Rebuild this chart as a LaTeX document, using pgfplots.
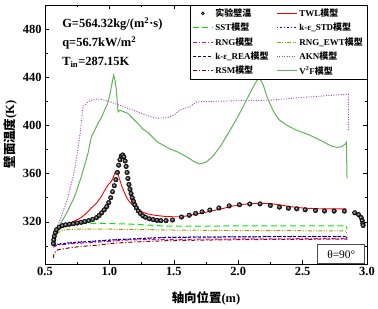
\documentclass[border=0pt]{standalone}
\usepackage{fontspec}
\setmainfont{Liberation Serif}
\newfontfamily\cjk{Noto Sans CJK SC}
\usepackage{pgfplots}
\pgfplotsset{compat=1.18}
\newcommand{\zh}[1]{{\cjk #1}}
\definecolor{cV}{RGB}{95,180,85}
\definecolor{cSST}{RGB}{0,235,0}
\definecolor{cEWT}{RGB}{153,153,0}
\definecolor{cAKN}{RGB}{170,60,200}
\definecolor{cREA}{RGB}{0,0,140}
\definecolor{cRSM}{RGB}{150,0,0}
\begin{document}
\begin{tikzpicture}
\begin{axis}[
  scale only axis, width=322bp, height=259bp,
  xmin=0.5, xmax=3.0, ymin=285, ymax=500,
  xtick={0.5,1.0,1.5,2.0,2.5,3.0}, ytick={320,360,400,440,480},
  minor xtick={0.75,1.25,1.75,2.25,2.75},
  minor ytick={300,340,380,420,460},
  tick align=inside, major tick length=4bp, minor tick length=2.5bp,
  axis line style={line width=0.6bp}, every tick/.style={black, line width=0.5bp},
  /pgf/number format/assume math mode=true,
  every tick label/.append style={font=\fontsize{12.5}{14}\selectfont\bfseries},
  x tick label style={/pgf/number format/.cd, fixed, fixed zerofill, precision=1},
  y tick label style={/pgf/number format/.cd, fixed, precision=0},
  every axis x label/.style={at={([yshift=-34bp]rel axis cs:0.5,0)}, anchor=center},
  every axis y label/.style={at={([xshift=-35bp]rel axis cs:0,0.5)}, anchor=center, rotate=90},
  xlabel={\fontsize{12.5}{14}\selectfont\bfseries\zh{轴向位置}(m)},
  ylabel={\fontsize{12.5}{14}\selectfont\bfseries\zh{壁面温度}(K)},
  legend columns=2,
  legend cell align=left,
  legend style={at={(rel axis cs:1,1)}, anchor=north east, draw=black, line width=0.5bp,
    font=\fontsize{9}{10}\selectfont\bfseries, inner xsep=2bp, inner ysep=1.5bp,
    row sep=1.2bp, /tikz/every even column/.append style={column sep=6bp}},
  legend image code/.code={\draw[mark repeat=2,mark phase=2,#1] plot coordinates {(0bp,0bp) (10bp,0bp) (20bp,0bp)};},
  clip=false,
]
\coordinate (bl) at (rel axis cs:0,0);
\coordinate (tr) at (rel axis cs:1,1);
% experiment
\addplot[only marks, mark=ball, mark size=2.3bp, every mark/.append style={ball color=black!85},
  legend image post style={mark size=1.6bp}] coordinates {
(0.565,302)(0.568,305)(0.572,308)(0.58,311)(0.59,313.5)(0.61,315.5)(0.635,316.8)(0.66,317.5)
(0.69,318)(0.72,318.5)(0.75,319)(0.78,319.6)(0.81,320.3)(0.84,321)(0.87,322)(0.90,323.5)
(0.92,325.3)(0.94,327.5)(0.96,330)(0.98,332.7)(0.995,336)(1.01,340)(1.025,345)(1.038,350)
(1.05,355)(1.062,361)(1.072,367)(1.082,371.5)(1.092,374.5)(1.103,375.5)(1.113,374)(1.122,370.5)
(1.13,366)(1.137,361)(1.144,356)(1.152,351)(1.16,347)(1.168,343.5)(1.177,340)(1.187,337)
(1.198,334)(1.21,331.5)(1.225,329)(1.24,327)(1.26,325)(1.28,323.8)(1.31,322.5)(1.34,321.8)
(1.37,321.2)(1.40,321)(1.44,321)(1.49,321.5)(1.56,324)(1.62,325.5)(1.67,327)(1.72,328.3)
(1.78,329.8)(1.85,331.5)(1.93,333.2)(2.01,334.2)(2.09,334.8)(2.17,334.9)(2.25,333.6)(2.32,332.2)
(2.39,331.3)(2.455,330.8)(2.52,330)(2.6,329.4)(2.67,329)(2.745,328.9)(2.825,328.9)(2.905,327.5)
(2.935,326)(2.955,323.5)(2.963,321)(2.968,318.5)(2.97,317)
};
\addlegendentry{\zh{实验壁温}}
% TWL
\addplot[red, line width=0.9bp] coordinates {
(0.565,302)(0.575,309)(0.6,313.5)(0.63,315.6)(0.68,318.5)(0.73,320.8)(0.78,323.5)(0.82,327)
(0.86,331.5)(0.9,335.5)(0.937,341)(0.96,345.5)(0.99,350.6)(1.015,353.5)(1.03,357)(1.045,361)
(1.055,362)(1.065,360)(1.08,355)(1.095,350)(1.11,346)(1.13,341)(1.15,337.5)(1.175,334.5)
(1.2,332.5)(1.23,330)(1.26,328)(1.3,326.5)(1.35,325.5)(1.43,324.5)(1.5,324.2)(1.56,324.2)
(1.62,325.3)(1.68,326.6)(1.75,328)(1.81,329.4)(1.88,331)(1.94,332.7)(2.0,334)(2.07,334.9)
(2.17,335.5)(2.27,334.9)(2.34,333.8)(2.4,332.7)(2.47,331.8)(2.53,331.3)(2.62,330.9)(2.71,330.8)(2.84,330.8)
};
\addlegendentry{TWL\zh{模型}}
% SST
\addplot[cSST, line width=1bp, dash pattern=on 6bp off 3.5bp] coordinates {
(0.565,303)(0.57,307)(0.58,310.5)(0.6,313.5)(0.63,315.8)(0.67,317.2)(0.72,318)(0.8,318.5)
(0.9,318.7)(1.04,318.5)(1.15,318.2)(1.3,317.3)(1.43,316.5)(1.6,316.5)(1.8,316.5)(2.0,316.6)
(2.2,316.7)(2.4,316.7)(2.6,316.7)(2.84,316.7)(2.845,314)
};
\addlegendentry{SST\zh{模型}}
% k-e STD
\addplot[blue, line width=1bp, dash pattern=on 1.2bp off 2.3bp] coordinates {
(0.565,300.5)(0.58,301)(0.6,301.6)(0.7,302.8)(0.8,303.6)(0.9,304.3)(1.04,305.3)(1.2,306)
(1.43,307.2)(1.7,307.5)(2.0,307.7)(2.3,307.9)(2.6,308)(2.84,308)(2.845,306)
};
\addlegendentry{k-ε\_STD\zh{模型}}
% RNG
\addplot[magenta, line width=1bp, dash pattern=on 4bp off 2bp on 1bp off 2bp] coordinates {
(0.565,299)(0.6,300.7)(0.7,301.8)(0.8,302.5)(1.0,303.8)(1.15,305)(1.4,305.4)(1.57,305.5)
(2.0,305.8)(2.5,306)(2.84,306)(2.845,305)
};
\addlegendentry{RNG\zh{模型}}
% RNG EWT
\addplot[cEWT, line width=1bp, dash pattern=on 4bp off 1.5bp on 1bp off 1.5bp on 1bp off 1.5bp] coordinates {
(0.565,302)(0.575,307)(0.6,311)(0.64,313)(0.7,313.8)(0.9,314)(1.2,313.7)(1.5,313.2)
(2.0,312.8)(2.5,312.6)(2.84,312.5)(2.845,309.5)
};
\addlegendentry{RNG\_EWT\zh{模型}}
% k-e REA
\addplot[cREA, line width=1bp, dash pattern=on 3bp off 2bp] coordinates {
(0.565,300)(0.58,300.5)(0.6,301.2)(0.7,302.5)(0.8,303.3)(0.9,304)(1.04,305)(1.2,305.8)
(1.43,307)(1.7,307.3)(2.0,307.5)(2.3,307.7)(2.6,307.8)(2.84,307.8)(2.845,306)
};
\addlegendentry{k-ε\_REA\zh{模型}}
% AKN
\addplot[cAKN, line width=0.9bp, dash pattern=on 1bp off 1.5bp] coordinates {
(0.562,303)(0.58,312)(0.627,324.4)(0.68,341)(0.73,363)(0.77,390.6)(0.795,415.5)(0.834,419.6)
(0.886,421.9)(0.93,421.8)(0.963,421)(1.04,418.3)(1.144,414.2)(1.22,411.3)(1.3,408)(1.37,406)
(1.45,406.5)(1.5,408.6)(1.55,413)(1.62,415.5)(1.68,419.6)(1.8,420)(1.99,420.5)(2.25,421)
(2.5,423.3)(2.855,426)(2.858,395)
};
\addlegendentry{AKN\zh{模型}}
% RSM
\addplot[cRSM, line width=1bp, dash pattern=on 4bp off 2bp on 1bp off 2bp] coordinates {
(0.565,290)(0.57,294)(0.6,296.8)(0.7,298.6)(0.78,299.6)(0.9,300.5)(1.04,302.3)(1.2,303.3)
(1.43,304.3)(1.7,304.8)(2.0,305.2)(2.4,305.5)(2.84,305.6)
};
\addlegendentry{RSM\zh{模型}}
% V2F
\addplot[cV, line width=1bp] coordinates {
(0.565,303)(0.575,310.6)(0.6,315)(0.653,324.4)(0.69,332)(0.73,341)(0.782,357.5)(0.834,376.9)
(0.86,390.6)(0.886,396)(0.911,401.7)(0.94,407)(0.963,412.8)(0.985,418)(1.0,423.8)(1.015,432)
(1.033,441.7)(1.045,437)(1.054,429.3)(1.067,411.3)(1.08,412.5)(1.092,412.2)(1.12,411)(1.144,410)
(1.18,406)(1.22,401.7)(1.26,397)(1.3,394)(1.37,386.5)(1.42,383.5)(1.47,380.5)(1.53,378)
(1.6,374)(1.65,370.5)(1.70,368)(1.75,369.5)(1.8,374)(1.86,382.4)(1.92,393)(1.99,405.9)
(2.05,418)(2.09,426.6)(2.13,434.5)(2.156,439)(2.175,437.5)(2.195,433.5)(2.22,425)(2.245,418.3)
(2.28,410.5)(2.32,404.5)(2.38,400)(2.45,396.2)(2.555,392)(2.66,386.5)(2.72,383)(2.765,381.8)
(2.8,382.3)(2.83,384.5)(2.84,386)(2.845,356)
};
\addlegendentry{V\textsuperscript{2}F\zh{模型}}
% annotations
\node[anchor=base west, inner sep=0pt, font=\fontsize{12.5}{14}\selectfont\bfseries] at (rel axis cs:0.053,0.913) {G=564.32kg/(m\textsuperscript{2}·s)};
\node[anchor=base west, inner sep=0pt, font=\fontsize{12.5}{14}\selectfont\bfseries] at (rel axis cs:0.053,0.839) {q=56.7kW/m\textsuperscript{2}};
\node[anchor=base west, inner sep=0pt, font=\fontsize{12.5}{14}\selectfont\bfseries] at (rel axis cs:0.053,0.768) {T\textsubscript{in}=287.15K};
\node[draw=black!70, fill=white, line width=0.6bp, anchor=south east, minimum width=47bp, minimum height=19bp, inner sep=0pt, font=\fontsize{11.5}{13}\selectfont] at (rel axis cs:0.994,0) {θ=90°};
\end{axis}
\pgfresetboundingbox
\path ([shift={(-45bp,-45bp)}]bl) rectangle ([shift={(11bp,5bp)}]tr);
\end{tikzpicture}
\end{document}
